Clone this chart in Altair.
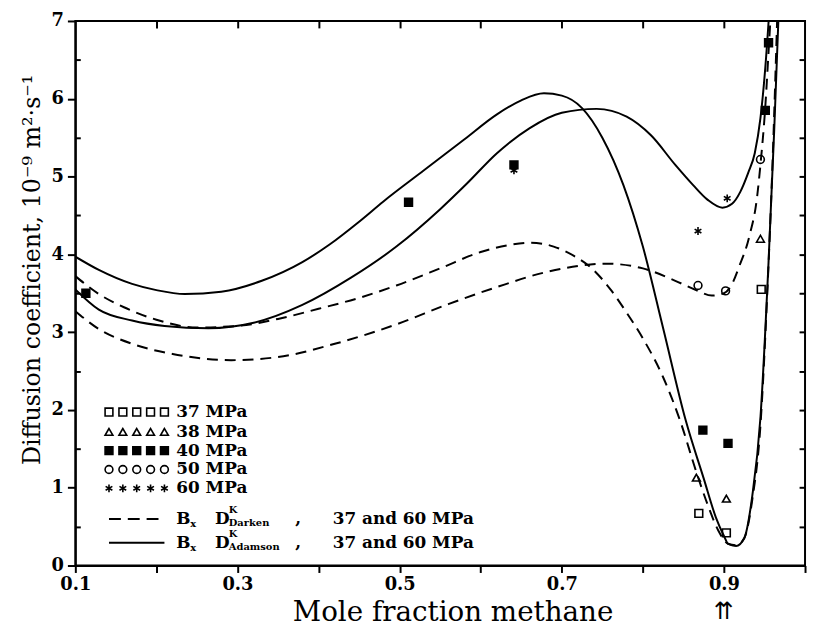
import altair as alt
import pandas as pd

# ---------------- data ----------------
# solid curves (B_x D^K Adamson)
s1_x = [0.10, 0.129, 0.17, 0.20, 0.235, 0.28, 0.33, 0.38, 0.414, 0.45, 0.48, 0.53, 0.58, 0.62, 0.65, 0.678,
        0.70, 0.725, 0.75, 0.776, 0.80, 0.825, 0.853, 0.875, 0.89, 0.90, 0.905, 0.915, 0.925, 0.935, 0.945,
        0.955, 0.962, 0.97]
s1_y = [3.97, 3.80, 3.62, 3.54, 3.49, 3.52, 3.66, 3.90, 4.13, 4.42, 4.68, 5.08, 5.48, 5.80, 5.98, 6.07,
        6.04, 5.88, 5.50, 4.89, 4.10, 3.05, 1.86, 1.12, 0.62, 0.38, 0.28, 0.25, 0.35, 0.90, 1.90,
        3.90, 5.60, 7.80]
s2_x = [0.10, 0.129, 0.17, 0.21, 0.264, 0.32, 0.38, 0.44, 0.496, 0.55, 0.583, 0.62, 0.66, 0.70, 0.743, 0.78,
        0.81, 0.84, 0.862, 0.88, 0.898, 0.91, 0.92, 0.93, 0.938, 0.945, 0.951, 0.957]
s2_y = [3.55, 3.29, 3.15, 3.08, 3.05, 3.12, 3.35, 3.70, 4.10, 4.58, 4.91, 5.30, 5.62, 5.82, 5.87, 5.77,
        5.53, 5.15, 4.89, 4.70, 4.60, 4.65, 4.80, 5.05, 5.30, 5.75, 6.40, 7.30]
# dashed curves (B_x D^K Darken)
d1_x = [0.10, 0.129, 0.16, 0.20, 0.25, 0.30, 0.35, 0.40, 0.45, 0.496, 0.55, 0.60, 0.635, 0.662, 0.69, 0.715,
        0.737, 0.76, 0.78, 0.80, 0.825, 0.846, 0.866, 0.88, 0.893, 0.905, 0.915, 0.925, 0.935, 0.945, 0.953,
        0.96, 0.967]
d1_y = [3.72, 3.49, 3.32, 3.16, 3.06, 3.08, 3.17, 3.30, 3.44, 3.60, 3.82, 4.03, 4.12, 4.15, 4.10, 3.98,
        3.82, 3.55, 3.25, 2.92, 2.42, 1.86, 1.20, 0.78, 0.45, 0.28, 0.26, 0.35, 0.85, 1.80, 3.40,
        5.20, 7.50]
d2_x = [0.10, 0.129, 0.17, 0.22, 0.292, 0.35, 0.42, 0.496, 0.56, 0.62, 0.68, 0.755, 0.80, 0.84, 0.868, 0.885,
        0.90, 0.909, 0.919, 0.931, 0.941, 0.945, 0.951, 0.955, 0.96]
d2_y = [3.27, 3.04, 2.85, 2.72, 2.64, 2.68, 2.85, 3.10, 3.36, 3.58, 3.77, 3.88, 3.82, 3.66, 3.53, 3.47,
        3.50, 3.60, 3.85, 4.22, 4.75, 5.15, 5.90, 6.60, 7.50]

# measured points
p37_x = [0.869, 0.903, 0.946]
p37_y = [0.67, 0.42, 3.55]
p38_x = [0.866, 0.903, 0.945]
p38_y = [1.13, 0.86, 4.20]
p40_x = [0.113, 0.511, 0.641, 0.874, 0.905, 0.951, 0.955]
p40_y = [3.50, 4.67, 5.15, 1.74, 1.57, 5.85, 6.72]
p50_x = [0.868, 0.902, 0.945]
p50_y = [3.60, 3.53, 5.22]
p60_x = [0.641, 0.868, 0.904]
p60_y = [5.08, 4.30, 4.72]

series_names = ["37 MPa", "38 MPa", "40 MPa", "50 MPa", "60 MPa"]
x_tick_values = [0.1, 0.2, 0.3, 0.4, 0.5, 0.6, 0.7, 0.8, 0.9, 1.0]
y_tick_values = [0, 1, 2, 3, 4, 5, 6, 7]
y_half_values = [0.5, 1.0, 1.5, 2.0, 2.5, 3.0, 3.5, 4.0, 4.5, 5.0, 5.5, 6.0, 6.5]
y_minor_values = [0.5, 1.5, 2.5, 3.5, 4.5, 5.5, 6.5]

# ---------------- tables ----------------
def curve(name, xs, ys):
    return pd.DataFrame({"x": xs, "y": ys, "curve": name})

solid_df = pd.concat([curve("s1", s1_x, s1_y), curve("s2", s2_x, s2_y)])
dashed_df = pd.concat([curve("d1", d1_x, d1_y), curve("d2", d2_x, d2_y)])

pts = []
for name, xs, ys in zip(series_names, [p37_x, p38_x, p40_x, p50_x, p60_x],
                        [p37_y, p38_y, p40_y, p50_y, p60_y]):
    for a, b in zip(xs, ys):
        pts.append({"x": a, "y": b, "series": name})
points_df = pd.DataFrame(pts)

W, H = 737, 550
FONT = "DejaVu Serif"

xscale = alt.Scale(domain=[0.1, 1.0], nice=False, zero=False)
yscale = alt.Scale(domain=[0, 7], nice=False, zero=False)

star = "M0,-1L0,1M-0.866,-0.5L0.866,0.5M-0.866,0.5L0.866,-0.5"
shape_scale = alt.Scale(domain=series_names, range=["square", "triangle-up", "square", "circle", star])
fill_scale = alt.Scale(domain=series_names, range=["transparent", "transparent", "black", "transparent", "black"])
size_scale = alt.Scale(domain=series_names, range=[62, 62, 105, 70, 80])

x_main_axis = alt.Axis(
    orient="bottom", values=x_tick_values,
    labelExpr="(round(datum.value*10) % 2 == 1) ? format(datum.value, '.1f') : ''",
    labelOverlap=False, labelFlush=False,
    tickSize=7, tickWidth=2, tickColor="black", domainWidth=2, domainColor="black",
    labelFont=FONT, labelFontWeight="bold", labelFontSize=18, labelColor="black", labelPadding=3,
    title="Mole  fraction  methane", titleFont=FONT, titleFontSize=28, titleFontWeight="normal",
    titleColor="black", titleX=381, titleY=56, titleBaseline="alphabetic", titleAlign="center",
    grid=False,
)
y_main_axis = alt.Axis(
    orient="left", values=y_tick_values, labelOverlap=False, labelFlush=False,
    tickSize=8, tickWidth=2, tickColor="black", domainWidth=2, domainColor="black",
    labelFont=FONT, labelFontWeight="bold", labelFontSize=18, labelColor="black", labelPadding=4,
    title="Diffusion coefficient,  10⁻⁹ m²·s⁻¹", titleFont=FONT, titleFontSize=24,
    titleFontWeight="normal", titleColor="black", titleAngle=270, titleX=-36, titleY=448,
    titleAlign="left", titleBaseline="alphabetic", grid=False,
)
x_top_axis = alt.Axis(orient="top", values=x_tick_values[1:-1], labels=False, domain=False,
                      tickSize=7, tickWidth=2, tickColor="black", offset=-7, title=None, grid=False)
y_right_axis = alt.Axis(orient="right", values=y_half_values, labels=False, domain=False,
                        tickSize=6, tickWidth=2, tickColor="black", offset=-6, title=None, grid=False)
y_minor_axis = alt.Axis(orient="left", values=y_minor_values, labels=False, domain=False,
                        tickSize=5, tickWidth=2, tickColor="black", offset=-5, title=None, grid=False)

solid = alt.Chart(solid_df).mark_line(color="black", strokeWidth=2, interpolate="monotone", clip=True).encode(
    x=alt.X("x:Q", scale=xscale, axis=x_main_axis),
    y=alt.Y("y:Q", scale=yscale, axis=y_main_axis),
    detail="curve:N",
)
dashed = alt.Chart(dashed_df).mark_line(color="black", strokeWidth=2, strokeDash=[11, 7],
                                        interpolate="monotone", clip=True).encode(
    x=alt.X("x:Q", scale=xscale, axis=x_top_axis),
    y=alt.Y("y:Q", scale=yscale, axis=y_right_axis),
    detail="curve:N",
)
points = alt.Chart(points_df).mark_point(filled=True, stroke="black", strokeWidth=1.6, opacity=1).encode(
    x=alt.X("x:Q", scale=xscale, axis=None),
    y=alt.Y("y:Q", scale=yscale, axis=y_minor_axis),
    shape=alt.Shape("series:N", scale=shape_scale, legend=None),
    fill=alt.Fill("series:N", scale=fill_scale, legend=None),
    size=alt.Size("series:N", scale=size_scale, legend=None),
)

# ---------------- hand-drawn legend (pixel layout inside plot) ----------------
row_y = [395, 415, 434, 453, 472]
leg_sym = []
leg_txt = []
for i, name in enumerate(series_names):
    for k in range(5):
        leg_sym.append({"px": 34 + 14 * k, "py": row_y[i], "series": name})
    leg_txt.append({"px": 102, "py": row_y[i], "t": name.replace(" ", "  ")})
leg_sym_df = pd.DataFrame(leg_sym)
leg_txt_df = pd.DataFrame(leg_txt)

legend_symbols = alt.Chart(leg_sym_df).mark_point(filled=True, stroke="black", strokeWidth=1.6, opacity=1).encode(
    x=alt.X("px:Q", scale=None, axis=None),
    y=alt.Y("py:Q", scale=None, axis=None),
    shape=alt.Shape("series:N", scale=shape_scale, legend=None),
    fill=alt.Fill("series:N", scale=fill_scale, legend=None),
    size=alt.Size("series:N", scale=size_scale, legend=None),
)
legend_text = alt.Chart(leg_txt_df).mark_text(align="left", baseline="middle", font=FONT,
                                              fontWeight="bold", fontSize=17, color="black").encode(
    x=alt.X("px:Q", scale=None, axis=None),
    y=alt.Y("py:Q", scale=None, axis=None),
    text="t:N",
)

line_rows = [(503, "Darken", [12, 7]), (527, "Adamson", None)]
pieces = []
line_marks = []
for yy, sub, dash in line_rows:
    kw = dict(color="black", strokeWidth=2)
    if dash:
        kw["strokeDash"] = dash
    line_marks.append(alt.Chart(pd.DataFrame({"a": [0]})).mark_rule(**kw).encode(
        x=alt.value(34), x2=alt.value(90), y=alt.value(yy)))
    pieces += [
        {"px": 102, "py": yy, "t": "B", "fs": 17},
        {"px": 116, "py": yy + 5, "t": "x", "fs": 10},
        {"px": 141, "py": yy, "t": "D", "fs": 17},
        {"px": 155, "py": yy - 9, "t": "K", "fs": 10},
        {"px": 155, "py": yy + 4, "t": sub, "fs": 10},
        {"px": 222, "py": yy, "t": ",", "fs": 17},
        {"px": 260, "py": yy, "t": "37  and  60  MPa", "fs": 17},
    ]
pieces_df = pd.DataFrame(pieces)
legend_pieces = alt.Chart(pieces_df).mark_text(align="left", baseline="middle", font=FONT,
                                               fontWeight="bold", color="black").encode(
    x=alt.X("px:Q", scale=None, axis=None),
    y=alt.Y("py:Q", scale=None, axis=None),
    text="t:N",
    size=alt.Size("fs:Q", scale=None, legend=None),
)

arrows = alt.Chart(pd.DataFrame({"a": [0]})).mark_text(text="⇈", font="DejaVu Sans", fontSize=24,
                                                       color="black", baseline="middle").encode(
    x=alt.X(datum=0.9, scale=xscale, axis=None),
    y=alt.value(597),
)

chart = alt.layer(solid, dashed, points, legend_symbols, legend_text, legend_pieces, *line_marks, arrows).resolve_axis(
    x="independent", y="independent"
).properties(
    width=W, height=H,
    autosize=alt.AutoSizeParams(type="none"),
    padding={"left": 68, "top": 10, "right": 3, "bottom": 60},
    background="white",
).configure_view(stroke="black", strokeWidth=2)

chart.save("out.html", embed_options={"renderer": "svg", "actions": False})
